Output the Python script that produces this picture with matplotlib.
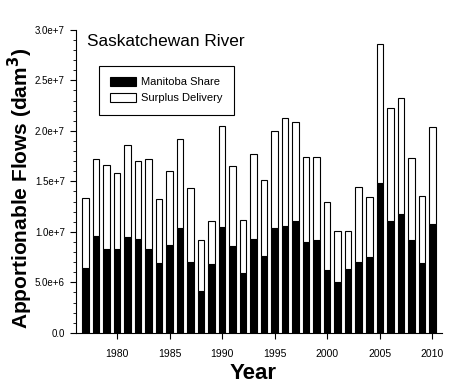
import matplotlib.pyplot as plt
from matplotlib.ticker import MultipleLocator, FixedFormatter, FixedLocator

plt.rcParams['font.family'] = ['Liberation Sans', 'DejaVu Sans']

years = list(range(1977, 2011))
total = [13.3, 17.2, 16.6, 15.8, 18.6, 17.0, 17.2, 13.2, 16.0, 19.2,
         14.3, 9.2, 11.1, 20.5, 16.5, 11.2, 17.7, 15.1, 20.0, 21.3,
         20.9, 17.4, 17.4, 13.0, 10.1, 10.1, 14.4, 13.4, 28.6, 22.3,
         23.2, 17.3, 13.5, 20.4]
manitoba = [6.4, 9.6, 8.3, 8.3, 9.5, 9.3, 8.3, 6.9, 8.7, 10.4,
            7.0, 4.1, 6.8, 10.5, 8.6, 5.9, 9.3, 7.6, 10.4, 10.6,
            11.1, 9.0, 9.2, 6.2, 5.0, 6.3, 7.0, 7.5, 14.8, 11.1,
            11.8, 9.2, 6.9, 10.8]
manitoba = [m * 1e6 for m in manitoba]
surplus = [t * 1e6 - m for t, m in zip(total, manitoba)]

yticks = [0, 5e6, 1e7, 1.5e7, 2e7, 2.5e7, 3e7]
ylabels = ['0.0', '5.0e+6', '1.0e+7', '1.5e+7', '2.0e+7', '2.5e+7', '3.0e+7']

fig = plt.figure(figsize=(4.72, 3.87), dpi=100)
ax = fig.add_axes([0.161, 0.14, 0.775, 0.783])

ax.bar(years, manitoba, width=0.62, color='black', edgecolor='black',
       linewidth=0.8, label='Manitoba Share')
ax.bar(years, surplus, bottom=manitoba, width=0.62, color='white',
       edgecolor='black', linewidth=0.8, label='Surplus Delivery')

ax.set_xlim(1976.1, 2010.9)
ax.set_ylim(0, 3e7)
ax.xaxis.set_major_locator(MultipleLocator(5))
ax.yaxis.set_major_locator(FixedLocator(yticks))
ax.yaxis.set_major_formatter(FixedFormatter(ylabels))
ax.yaxis.set_minor_locator(MultipleLocator(1e6))
ax.tick_params(axis='both', direction='out', length=4.5, width=0.8)
ax.tick_params(axis='x', labelsize=7.5, pad=7)
ax.tick_params(axis='y', labelsize=7)
ax.tick_params(axis='y', which='minor', direction='out', length=2.5, width=0.6)
ax.spines['top'].set_visible(False)
ax.spines['right'].set_visible(False)

ax.set_xlabel('Year', fontsize=16, fontweight='bold')
ax.xaxis.set_label_coords(0.484, -0.1)
ax.set_ylabel('Apportionable Flows (dam$^\\mathbf{3}$)', fontsize=15,
              fontweight='bold')
ax.yaxis.set_label_coords(-0.113, 0.475)
ax.text(0.03, 0.985, 'Saskatchewan River', transform=ax.transAxes,
        fontsize=12.4, va='top', ha='left')

leg = ax.legend(loc='upper left', bbox_to_anchor=(0.063, 0.881),
                borderaxespad=0, fontsize=8, fancybox=False,
                edgecolor='black', framealpha=1, handlelength=2.3,
                handleheight=0.9, handletextpad=0.5, borderpad=1.0,
                labelspacing=0.5)
leg.get_frame().set_linewidth(0.8)

fig.savefig('out.png', dpi=100)
